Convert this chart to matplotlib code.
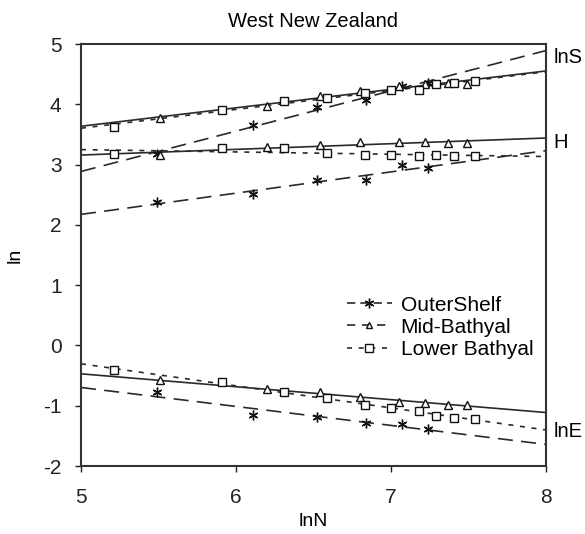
import numpy as np
import matplotlib
matplotlib.use("Agg")
import matplotlib.pyplot as plt
from matplotlib.lines import Line2D

plt.rcParams['font.family'] = ['Liberation Sans', 'DejaVu Sans']
plt.rcParams['axes.unicode_minus'] = False

# ---- data ----
outer_x   = [5.49, 6.11, 6.52, 6.84, 7.07, 7.24]
outer_lnS = [3.18, 3.66, 3.95, 4.07, 4.30, 4.35]
outer_H   = [2.38, 2.51, 2.74, 2.74, 2.99, 2.95]
outer_lnE = [-0.78, -1.15, -1.19, -1.29, -1.30, -1.39]

mid_x   = [5.51, 6.20, 6.54, 6.80, 7.05, 7.22, 7.37, 7.49]
mid_lnS = [3.78, 3.97, 4.13, 4.22, 4.30, 4.33, 4.35, 4.34]
mid_H   = [3.16, 3.29, 3.33, 3.38, 3.37, 3.37, 3.35, 3.35]
mid_lnE = [-0.58, -0.73, -0.78, -0.86, -0.93, -0.96, -0.98, -0.98]

low_x   = [5.21, 5.91, 6.31, 6.59, 6.83, 7.00, 7.18, 7.29, 7.41, 7.54]
low_lnS = [3.63, 3.91, 4.06, 4.10, 4.18, 4.23, 4.24, 4.33, 4.35, 4.39]
low_H   = [3.17, 3.27, 3.27, 3.20, 3.16, 3.16, 3.14, 3.16, 3.14, 3.15]
low_lnE = [-0.41, -0.60, -0.77, -0.88, -0.99, -1.04, -1.08, -1.17, -1.20, -1.22]

series_names = ["OuterShelf", "Mid-Bathyal", "Lower Bathyal"]
right_labels = ["lnS", "H", "lnE"]
right_label_y = [4.78, 3.36, -1.43]

fig = plt.figure(figsize=(5.85, 5.34), dpi=100)
ax = fig.add_axes([0.1385, 0.1273, 0.7945, 0.7903])

lc = '#2a2a2a'
styles = [
    dict(x=outer_x, ys=[outer_lnS, outer_H, outer_lnE], ls=(0, (9, 5)),
         marker=(6, 2, 0), ms=7, name=series_names[0]),
    dict(x=mid_x, ys=[mid_lnS, mid_H, mid_lnE], ls='-',
         marker='^', ms=6, name=series_names[1]),
    dict(x=low_x, ys=[low_lnS, low_H, low_lnE], ls=(0, (3, 4)),
         marker='s', ms=6, name=series_names[2]),
]

xfit = np.array([5.0, 8.0])
for s in styles:
    for y in s['ys']:
        b, a = np.polyfit(s['x'], y, 1)
        ax.plot(xfit, a + b * xfit, color=lc, lw=1.2, ls=s['ls'], zorder=2)
        ax.plot(s['x'], y, ls='none', marker=s['marker'], ms=s['ms'],
                mfc='white', mec='#111111', mew=1.0, zorder=3)

ax.set_xlim(5, 8)
ax.set_ylim(-2, 5)
ax.set_xticks([5, 6, 7, 8])
ax.set_yticks(range(-2, 6))
ax.tick_params(direction='out', length=4, width=1, labelsize=15, colors='#222222')
ax.tick_params(axis='x', pad=12)
ax.tick_params(axis='y', pad=10)
for sp in ax.spines.values():
    sp.set_linewidth(1.5)
    sp.set_color('#333333')

ax.set_xlabel("lnN", fontsize=14, labelpad=4)
ax.set_ylabel("ln", fontsize=14, labelpad=14)
ax.set_title("West New Zealand", fontsize=14.5, pad=12)

for lab, yv in zip(right_labels, right_label_y):
    ax.text(1.016, (yv + 2) / 7, lab, transform=ax.transAxes, fontsize=14.5,
            va='center', ha='left')

handles = [
    Line2D([], [], color=lc, lw=1.2, ls=(0, (5, 3)), marker=(6, 2, 0), ms=7,
           mfc='white', mec='#111111'),
    Line2D([], [], color=lc, lw=1.2, ls=(0, (5, 4)), marker='^', ms=5,
           mfc='white', mec='#111111'),
    Line2D([], [], color=lc, lw=1.2, ls=(0, (3, 4)), marker='s', ms=6,
           mfc='white', mec='#111111'),
]
ax.legend(handles, series_names, loc='center right', bbox_to_anchor=(1.0, 0.329),
          frameon=False, fontsize=15, handlelength=2.2, handletextpad=0.4,
          labelspacing=0.15, borderaxespad=0.2)

fig.savefig("out.png", dpi=100)
